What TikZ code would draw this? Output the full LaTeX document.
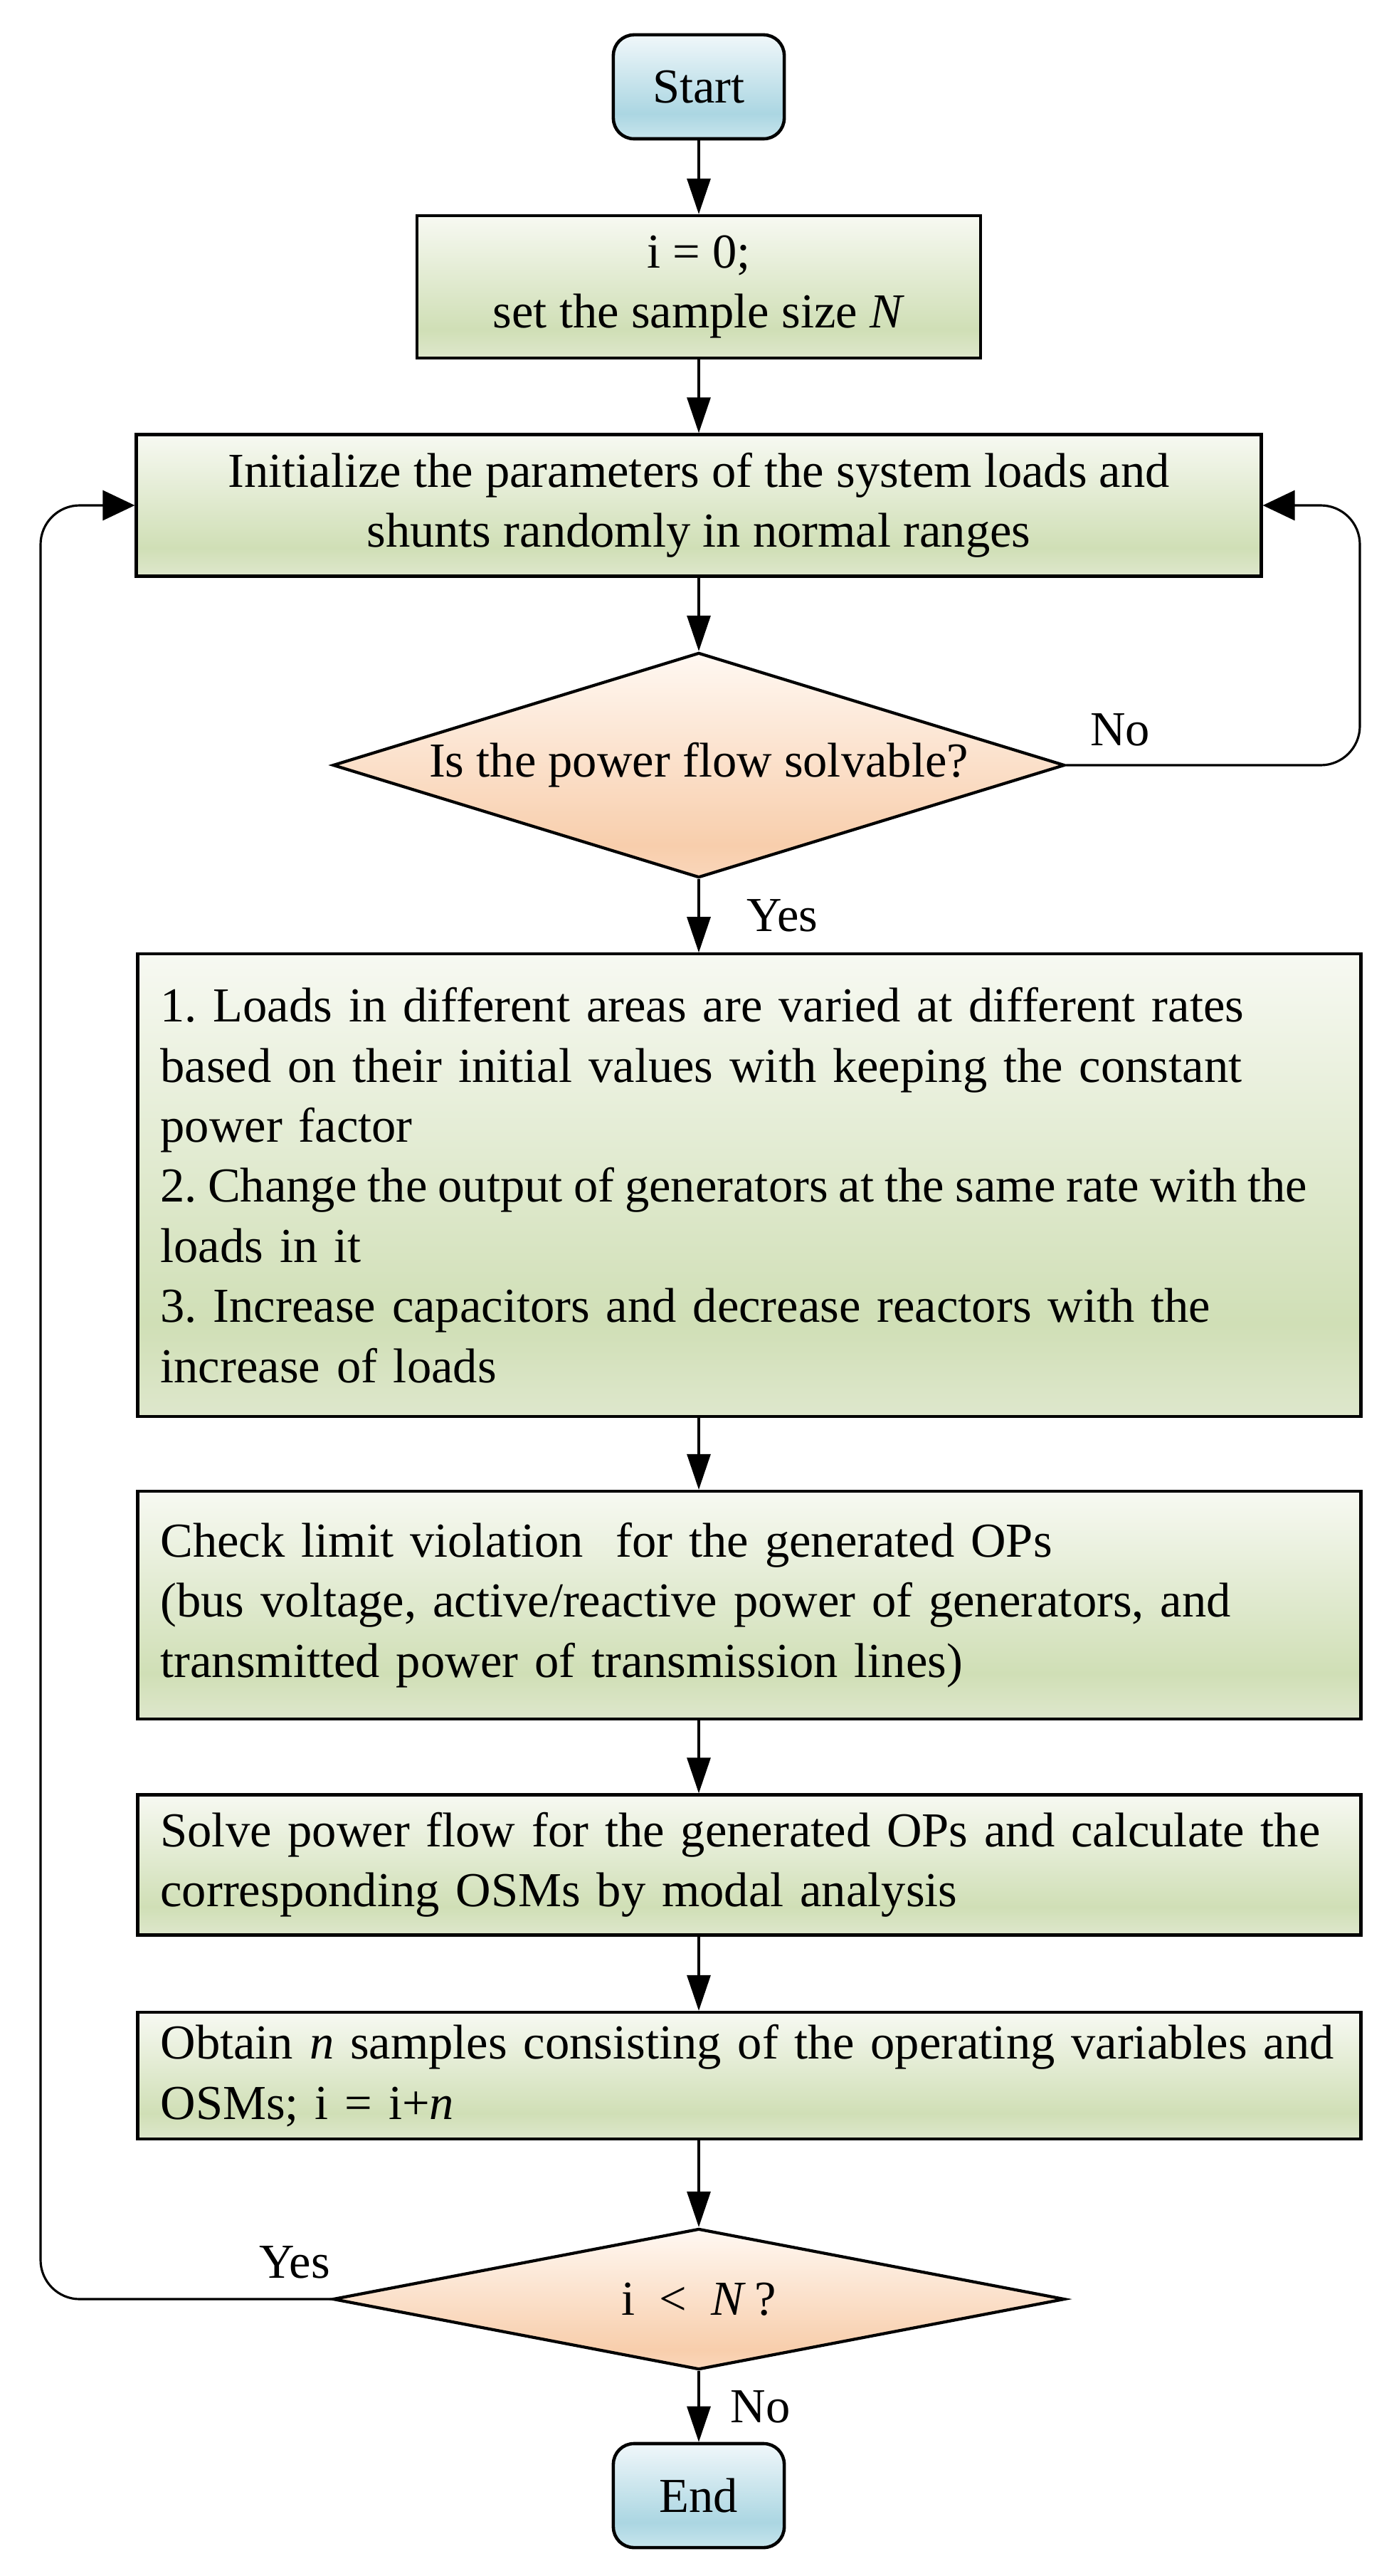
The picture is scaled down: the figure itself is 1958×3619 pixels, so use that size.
\documentclass[tikz,border=0pt]{standalone}
\usepackage{fontspec}
\setmainfont{Liberation Serif}
\usetikzlibrary{shapes.geometric}
\usetikzlibrary{arrows.meta}

\definecolor{gTop}{HTML}{F7F9F2}
\definecolor{gMid}{HTML}{D0DFB6}
\definecolor{gBot}{HTML}{DEE7CC}
\definecolor{oTop}{HTML}{FFF8F2}
\definecolor{oMid}{HTML}{F8CEAC}
\definecolor{oBot}{HTML}{FAD6BA}
\definecolor{bTop}{HTML}{F0F7FA}
\definecolor{bMid}{HTML}{ABD6E2}
\definecolor{bBot}{HTML}{C8E5ED}
\pgfdeclareverticalshading{greenfill}{100bp}{color(0bp)=(gBot); color(25bp)=(gBot); color(35bp)=(gMid); color(75bp)=(gTop); color(100bp)=(gTop)}
\pgfdeclareverticalshading{orangefill}{100bp}{color(0bp)=(oBot); color(25bp)=(oBot); color(32bp)=(oMid); color(75bp)=(oTop); color(100bp)=(oTop)}
\pgfdeclareverticalshading{bluefill}{100bp}{color(0bp)=(bBot); color(25bp)=(bBot); color(37bp)=(bMid); color(75bp)=(bTop); color(100bp)=(bTop)}

\begin{document}
\begin{tikzpicture}[x=0.01cm,y=-0.01cm,
	every node/.append style={font=\fontsize{19.5}{24}\selectfont\frenchspacing},
	term/.style={draw,line width=1.3pt,rounded corners=0.29cm,shading=bluefill,minimum width=2.4cm,minimum height=1.46cm,inner sep=0pt},
	proc/.style={draw,line width=1.2pt,shading=greenfill,inner sep=0pt,align=center},
	procl/.style={proc,text width=16.54cm,align=left,inner xsep=0.32cm,minimum width=17.18cm},
	decide/.style={draw,line width=1.2pt,diamond,shading=orangefill,inner sep=0pt,minimum width=10.28cm},
	conn/.style={line width=0.9pt,-{Triangle[length=0.5cm,width=0.33cm]}},
	back/.style={line width=0.9pt,rounded corners=0.55cm,-{Triangle[length=0.45cm,width=0.42cm]}},
	lab/.style={inner sep=0pt}]
	\useasboundingbox (0,0) rectangle (1958,3619);
	\node (start) [term] at (982,122) {Start};
	\node (setN) [proc,minimum width=7.91cm,minimum height=2cm] at (982,403) {i = 0;\\ set the sample size \textit{N}};
	\node (initial) [proc,minimum width=15.8cm,minimum height=1.99cm] at (982,710) {Initialize the parameters of the system loads and\\ shunts randomly in normal ranges};
	\node (solvable) [decide,minimum height=3.16cm,shape aspect=3.25] at (982,1075) {Is the power flow solvable?};
	\node (vary) [procl,minimum height=6.49cm] at (1053,1665) {1. Loads in different areas are varied at different rates\\ based on their initial values with keeping the constant\\ power factor\\ \mbox{\spaceskip=4.3pt\relax 2. Change the output of generators at the same rate with the}\\ loads in it\\ 3. Increase capacitors and decrease reactors with the\\ increase of loads};
	\node (limits) [procl,minimum height=3.2cm] at (1053,2255) {Check limit violation\ \ for the generated OPs\\ (bus voltage, active/reactive power of generators, and\\ transmitted power of transmission lines)};
	\node (osm) [procl,minimum height=1.97cm] at (1053,2620) {Solve power flow for the generated OPs and calculate the\\ corresponding OSMs by modal analysis};
	\node (samples) [procl,minimum height=1.78cm] at (1053,2916) {Obtain \textit{n} samples consisting of the operating variables and\\ OSMs; i = i+\textit{n}};
	\node (iless) [decide,minimum height=1.98cm,shape aspect=5.2] at (982,3230) {i\ \ <\ \ \textit{N}\,?};
	\node (finish) [term] at (982,3506) {End};
	\coordinate (loopL) at (57,0); \coordinate (loopR) at (1911,0);

	\draw [conn] (start) -- (setN); \draw [conn] (setN) -- (initial); \draw [conn] (initial) -- (solvable);
	\draw [conn] (solvable.south) -- node[lab,anchor=west,xshift=0.66cm] {Yes} (vary.north -| solvable.south);
	\draw [conn] (vary.south -| solvable.south) -- (limits.north -| solvable.south);
	\draw [conn] (limits.south -| solvable.south) -- (osm.north -| solvable.south);
	\draw [conn] (osm.south -| solvable.south) -- (samples.north -| solvable.south);
	\draw [conn] (samples.south -| iless.north) -- (iless.north);
	\draw [conn] (iless.south) -- node[lab,anchor=west,xshift=0.43cm] {No} (finish);
	\draw [back] (solvable.east) node[lab,anchor=south west,xshift=0.32cm,yshift=0.25cm] {No} -| (loopR |- initial.east) -- (initial.east);
	\draw [back] (iless.west) node[lab,anchor=south east,yshift=0.27cm] {Yes} -| (loopL |- initial.west) -- (initial.west);
\end{tikzpicture}
\end{document}
